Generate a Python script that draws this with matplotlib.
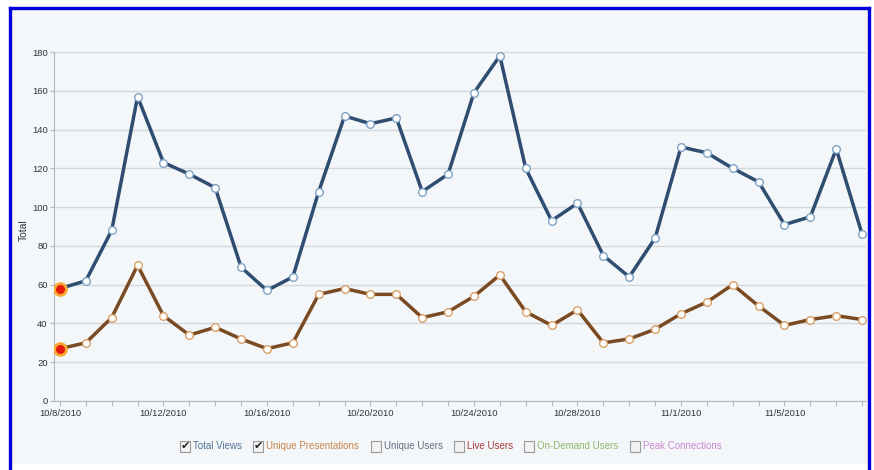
import matplotlib
matplotlib.use('Agg')
import matplotlib.pyplot as plt
import matplotlib.dates as mdates
from matplotlib.patches import Rectangle
from matplotlib.lines import Line2D
import numpy as np
import datetime as dt

plt.rcParams['font.family'] = ['Liberation Sans', 'DejaVu Sans']

# data
start = dt.date(2010, 10, 8)
dates = [start + dt.timedelta(days=i) for i in range(32)]
total_views = [58, 62, 88, 157, 123, 117, 110, 69, 57, 64, 108, 147, 143, 146, 108, 117,
               159, 178, 120, 93, 102, 75, 64, 84, 131, 128, 120, 113, 91, 95, 130, 86]
unique_pres = [27, 30, 43, 70, 44, 34, 38, 32, 27, 30, 55, 58, 55, 55, 43, 46,
               54, 65, 46, 39, 47, 30, 32, 37, 45, 51, 60, 49, 39, 42, 44, 42]
yticks = [0, 20, 40, 60, 80, 100, 120, 140, 160, 180]
legend_items = ['Total Views', 'Unique Presentations', 'Unique Users', 'Live Users',
                'On-Demand Users', 'Peak Connections']
legend_checked = [True, True, False, False, False, False]
legend_colors = ['#4f7394', '#c8864a', '#6e6a82', '#a83a3a', '#8fb56a', '#c98ad0']

W, H = 874, 470
fig = plt.figure(figsize=(W / 100, H / 100), dpi=100)
fig.patch.set_facecolor('white')

def px(x, y):
    # pixel (from top-left) to figure coords
    return x / W, 1 - y / H

# panel background + blue frame
fig.patches.append(Rectangle(px(10, 464), 858 / W, 456 / H, transform=fig.transFigure,
                             facecolor='#f4f7fa', edgecolor='none', zorder=-5))
for xs, ys in (([10, 10], [470, 7.5]), ([869, 869], [470, 7.5]), ([10, 869], [7.5, 7.5])):
    fig.lines.append(Line2D([v / W for v in xs], [1 - v / H for v in ys],
                            transform=fig.transFigure, color='#0000dd', lw=2.4, zorder=-4))

x0, x1, ytop, ybot = 54, 866, 52, 401
ax = fig.add_axes([x0 / W, 1 - ybot / H, (x1 - x0) / W, (ybot - ytop) / H])
ax.set_facecolor('none')
ax.set_zorder(2)

xnum = mdates.date2num(dates)
ax.plot(xnum, total_views, color='#2f4d70', lw=2.5, zorder=3,
        marker='o', ms=5.5, mfc='white', mec='#7fa3c4', mew=1.0)
ax.plot(xnum, unique_pres, color='#7a4a22', lw=2.5, zorder=3,
        marker='o', ms=5.5, mfc='white', mec='#d9a068', mew=1.0)
# highlighted first points
for s in (total_views, unique_pres):
    ax.plot(xnum[0], s[0], marker='o', ms=8.5, mfc='#e21a0c', mec='#f8a833', mew=2.0, zorder=4)

ax.set_ylim(0, 180)
ax.set_xlim(xnum[0] - 0.23, xnum[-1] + 0.15)
ax.set_yticks(yticks)
ax.yaxis.grid(True, color='#d4d7db', lw=1.0)
ax.set_axisbelow(True)

labels = []
for i, d in enumerate(dates):
    labels.append('%d/%d/%d' % (d.month, d.day, d.year) if i % 4 == 0 else '')
ax.set_xticks(xnum)
ax.set_xticklabels(labels)

for side in ('top', 'right'):
    ax.spines[side].set_visible(False)
for side in ('left', 'bottom'):
    ax.spines[side].set_color('#b5b8bc')
ax.tick_params(axis='both', colors='#b5b8bc', labelcolor='#333333', labelsize=6.8, length=3.5, width=0.8)
ax.tick_params(axis='x', pad=2)
ax.tick_params(axis='y', pad=1.5, length=3)
ax.set_ylabel('Total', fontsize=7.5, color='#333333')
ax.yaxis.set_label_coords((29 - x0) / (x1 - x0), 0.49)

# legend with checkboxes
box_x = [180, 253, 371, 454, 524, 630]
ly = 446
for name, chk, col, bx in zip(legend_items, legend_checked, legend_colors, box_x):
    fig.patches.append(Rectangle(px(bx, ly + 5.5), 10 / W, 11 / H, transform=fig.transFigure,
                                 facecolor='#f2f2f2', edgecolor='#9a9a9a', lw=0.8))
    if chk:
        fig.text(*px(bx + 5.3, ly), '\u2714', fontsize=8, color='#222222',
                 ha='center', va='center', family='DejaVu Sans')
    fig.text(*px(bx + 13, ly), name, fontsize=7.0, color=col, ha='left', va='center')

fig.savefig('out.png', dpi=100, facecolor=fig.get_facecolor())
